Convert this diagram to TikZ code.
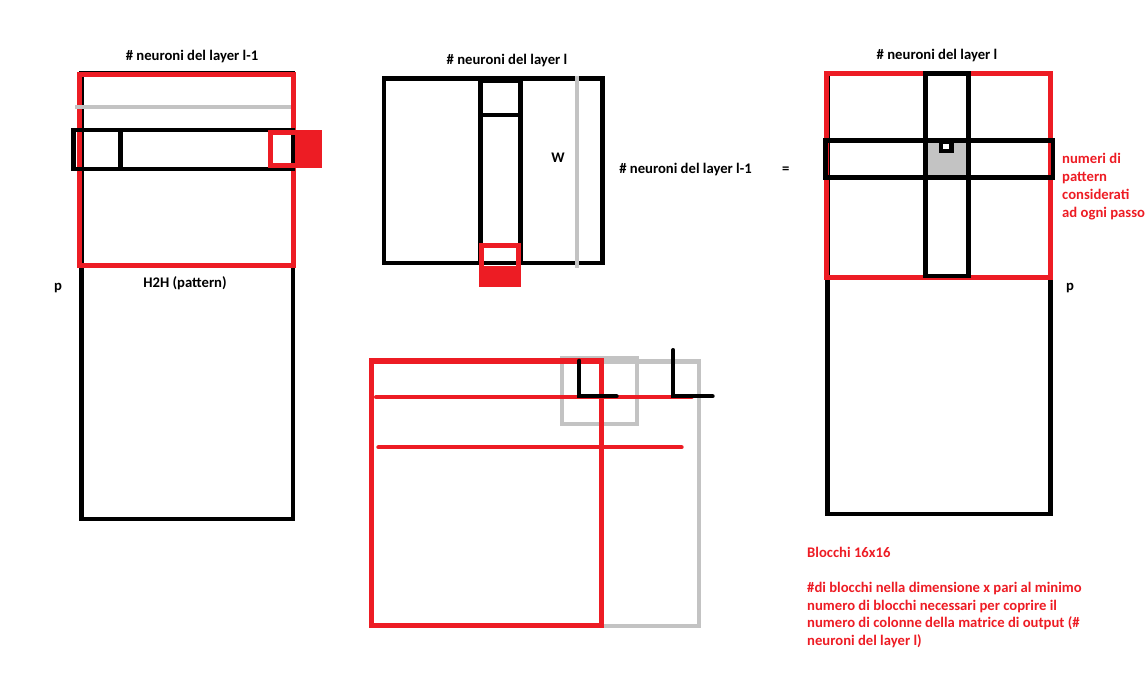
\documentclass[tikz,border=0pt]{standalone}
\usepackage{fontspec}
\setmainfont{Carlito}
\usetikzlibrary{positioning}
\definecolor{paintred}{RGB}{237,28,36}
\definecolor{paintgray}{RGB}{195,195,195}

\begin{document}
\begin{tikzpicture}[x=1pt, y=-1pt,
        every node/.style={inner sep=0pt, font=\fontsize{14.67}{17.9}\selectfont\bfseries},
        nero/.style={draw=black, line width=4.5pt},
        rosso/.style={draw=paintred, line width=5pt},
        grigio/.style={draw=paintgray, line width=4pt},
        tratto/.style={line width=4pt, line cap=round},
        nota/.style={text=paintred, align=left, anchor=west}
    ]
        \useasboundingbox (0,0) rectangle (1148,700);

        % matrice H2H
        \draw[nero] (81.5,73) rectangle (293,519);
        \draw[rosso] (79.2,74.2) rectangle (293.2,265.2);
        \draw[grigio] (75,107.2) -- (291,107.2);
        \draw[nero] (73.3,130) rectangle (293.2,169);
        \draw[nero] (120.5,130) -- (120.5,169);
        \fill[paintred] (295,130) rectangle (321.7,168.3);
        \draw[rosso] (270.8,132.5) rectangle (297.5,165.8);
        \node (hcol) at (192,57) {\# neuroni del layer l-1};
        \node (hlbl) at (185,283) {H2H (pattern)};
        \node (hrig) at (58,288) {p};

        % matrice W
        \draw[nero] (384,78.5) rectangle (602.5,263);
        \draw[nero] (480.5,78.5) rectangle (520.5,263);
        \draw[nero] (480.5,80.5) rectangle (520.5,115);
        \draw[grigio] (576.5,76) -- (576.5,267.7);
        \fill[paintred] (479.3,266) rectangle (521,286.7);
        \draw[rosso] (481.8,266) -- (481.8,245.5) -- (518.5,245.5) -- (518.5,266);
        \node (wcol) at (507,61) {\# neuroni del layer l};
        \node (wlbl) at (558,158) {W};
        \node (wrig) at (685.5,170) {\# neuroni del layer l-1};
        \node[right=30pt of wrig] (uguale) {=};

        % matrice di output
        \draw[nero] (827.5,73) rectangle (1050.5,514);
        \draw[rosso] (826.7,74) rectangle (1050.5,277.5);
        \fill[paintgray] (928,143) rectangle (966,175);
        \draw[nero] (925.5,73.5) rectangle (968.5,276);
        \draw[nero] (825.5,140.5) rectangle (1053,177.5);
        \fill[black] (939,143) rectangle (954,153.3);
        \fill[white] (943,144.5) rectangle (949,149);
        \node (ocol) at (937,56) {\# neuroni del layer l};
        \node (orig) at (1070,288) {p};
        \node[nota] (opass) at (1062,186.5) {numeri di\\pattern\\considerati\\ad ogni passo};

        % blocchi
        \draw[grigio] (371,361.5) rectangle (698.5,626);
        \draw[grigio] (562,358) rectangle (636.5,423.7);
        \draw[rosso] (371.8,361) rectangle (601.5,625);
        \draw[paintred, tratto] (376,397.3) -- (691.7,397.3);
        \draw[paintred, tratto] (378.3,447.3) -- (681.7,447.3);
        \draw[black, tratto] (579.3,360.7) -- (579.3,396.3) -- (616.7,396.3);
        \draw[black, tratto] (673.3,350) -- (673.3,396.3) -- (712.7,396.3);

        \node[nota] (blocchi) at (807,552) {Blocchi 16x16};
        \node[nota] (spiega) at (807,615) {\#di blocchi nella dimensione x pari al minimo\\numero di blocchi necessari per coprire il\\numero di colonne della matrice di output (\#\\neuroni del layer l)};
    \end{tikzpicture}
\end{document}
